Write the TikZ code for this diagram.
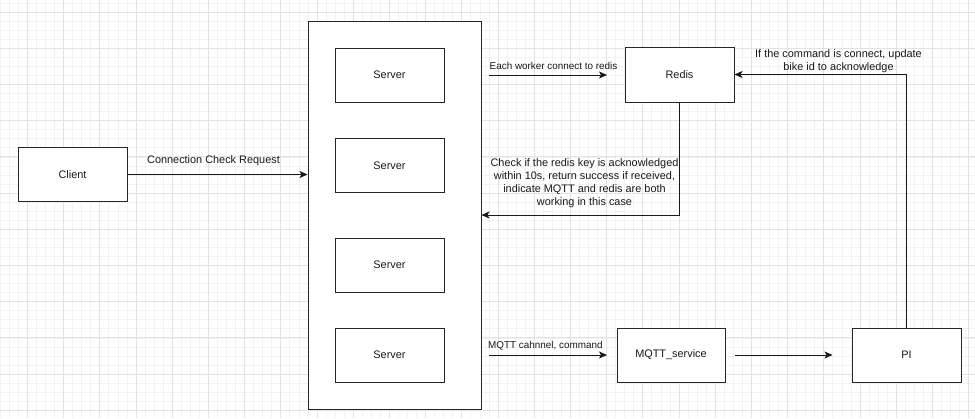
\documentclass[tikz,border=0pt]{standalone}
\usepackage{fontspec}
\setmainfont{Liberation Sans}
\usetikzlibrary{arrows.meta}
\begin{document}
\begin{tikzpicture}[x=1pt,y=-1pt,
  box/.style={draw=black!85,line width=1pt,fill=white,inner sep=0pt,
    font=\fontsize{10.9}{13.1}\selectfont,text=black!90},
  conn/.style={draw=black!90,line width=1pt,-{Stealth[length=8pt,width=7pt,inset=2pt]}},
  lbl/.style={font=\fontsize{10.9}{13.1}\selectfont,text=black!90,inner sep=0pt,align=center},
  slbl/.style={font=\fontsize{9.9}{12}\selectfont,text=black!90,inner sep=0pt},
  gminor/.style={draw=black!5,line width=0.6pt},
  gmajor/.style={draw=black!11,line width=0.8pt}]
% background and grid
\fill[white] (0,0) rectangle (975,418);
\useasboundingbox (0,0) rectangle (975,418);
\foreach \k in {-3,...,105} {\draw[gminor] ({27.3+9.05*\k},0) -- ({27.3+9.05*\k},418);}
\foreach \k in {-2,...,45} {\draw[gminor] (0,{12+9.05*\k}) -- (975,{12+9.05*\k});}
\foreach \k in {-1,...,26} {\draw[gmajor] ({27.3+36.2*\k},0) -- ({27.3+36.2*\k},418);}
\foreach \k in {0,...,11} {\draw[gmajor] (0,{12+36.2*\k}) -- (975,{12+36.2*\k});}
% nodes
\node[box,minimum width=109pt,minimum height=54pt] (client) at (72.5,174.5) {Client};
\node[box,minimum width=173pt,minimum height=388pt] (cont) at (394.5,215) {};
\node[box,minimum width=109pt,minimum height=54pt] (s1) at (389.5,75) {Server};
\node[box,minimum width=109pt,minimum height=54pt] (s2) at (389.5,165.5) {Server};
\node[box,minimum width=109pt,minimum height=54pt] (s3) at (389.5,265) {Server};
\node[box,minimum width=109pt,minimum height=54pt] (s4) at (389.5,355) {Server};
\node[box,minimum width=109pt,minimum height=55pt] (redis) at (679.5,74.5) {Redis};
\node[box,minimum width=108pt,minimum height=54pt] (mqtt) at (671,355) {MQTT\_service};
\node[box,minimum width=109pt,minimum height=54pt] (pi) at (906.5,355) {PI};
% free-end coordinates
\coordinate (w1) at (489,75);
\coordinate (w2) at (607,75);
\coordinate (m1) at (489,355);
\coordinate (m2) at (607,355);
% connectors
\draw[conn] (client.east) -- (client.east -| cont.west);
\draw[conn] (w1) -- (w2);
\draw[conn] (redis.south) |- (cont.east);
\draw[conn] (pi.north) |- (redis.east);
\draw[conn] (m1) -- (m2);
\draw[conn] ([xshift=9pt]mqtt.east) -- ([xshift=-19pt]pi.west);
% labels
\node[lbl] (l1) at (213.5,160.5) {Connection Check Request};
\node[slbl,anchor=west] (l2) at (489.5,66) {Each worker connect to redis};
\node[lbl] (l3) at (584.5,183.5) {Check if the redis key is acknowledged\\within 10s, return success if received,\\indicate MQTT and redis are both\\working in this case};
\node[lbl] (l4) at (838.5,61.5) {If the command is connect, update\\bike id to acknowledge};
\node[slbl,anchor=west] (l5) at (488,346) {MQTT cahnnel, command};
\end{tikzpicture}
\end{document}
